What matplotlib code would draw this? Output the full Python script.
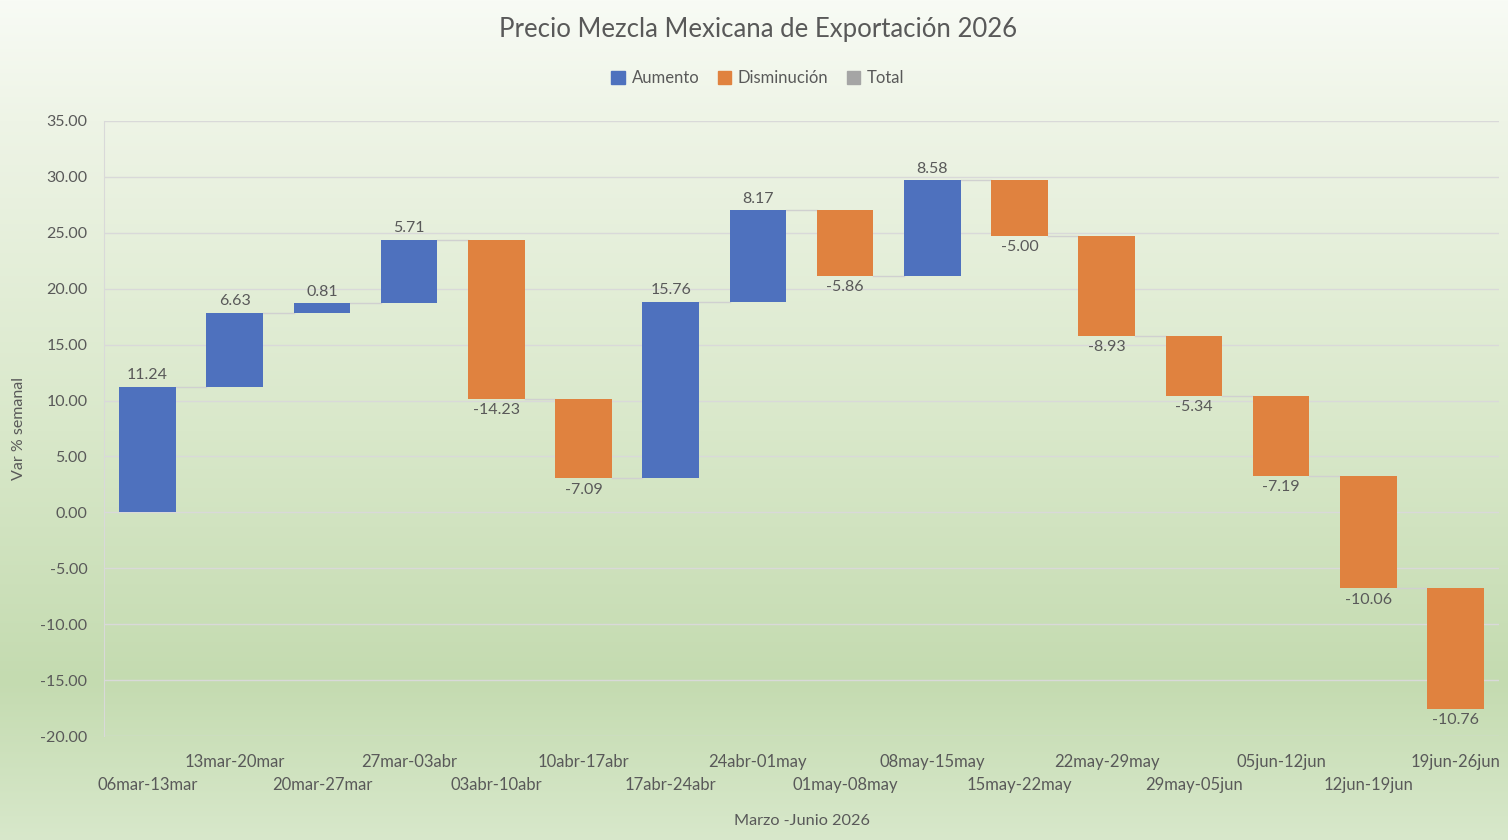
import matplotlib.pyplot as plt
import numpy as np
from matplotlib.patches import Patch

# weekly ranges and weekly % change
semanas = ['06mar-13mar', '13mar-20mar', '20mar-27mar', '27mar-03abr', '03abr-10abr',
           '10abr-17abr', '17abr-24abr', '24abr-01may', '01may-08may', '08may-15may',
           '15may-22may', '22may-29may', '29may-05jun', '05jun-12jun', '12jun-19jun',
           '19jun-26jun']
variacion = [11.24, 6.63, 0.81, 5.71, -14.23, -7.09, 15.76, 8.17, -5.86, 8.58,
             -5.00, -8.93, -5.34, -7.19, -10.06, -10.76]

azul = '#4e71be'
naranja = '#e0823f'
gris = '#a5a5a5'
texto = '#595959'

plt.rcParams['font.family'] = ['Lato', 'DejaVu Sans']

fig = plt.figure(figsize=(15.08, 8.4), dpi=100)

# background gradient (white at top to soft green near the bottom)
stops_y = [0, 120, 430, 680, 840]
stops_c = np.array([[248, 251, 245], [238, 244, 230], [217, 232, 202],
                    [196, 219, 176], [216, 232, 203]]) / 255.0
yy = np.arange(840)
grad = np.stack([np.interp(yy, stops_y, stops_c[:, k]) for k in range(3)], axis=1)
bg = fig.add_axes([0, 0, 1, 1], zorder=-10)
bg.imshow(grad[:, None, :], aspect='auto', extent=[0, 1, 0, 1])
bg.axis('off')

ax = fig.add_axes([104 / 1508, 1 - 736 / 840, 1395 / 1508, 615 / 840])
ax.set_facecolor('none')

v = np.array(variacion)
fin = np.cumsum(v)
inicio = fin - v
x = np.arange(len(v))
ancho = 0.65
colores = [azul if d >= 0 else naranja for d in v]

ax.bar(x, v, bottom=inicio, width=ancho, color=colores, zorder=3)

# connector lines between bars
for i in range(len(v) - 1):
    ax.plot([x[i] + ancho / 2, x[i + 1] - ancho / 2], [fin[i], fin[i]],
            color='#d0d0d0', lw=1, zorder=2)

# data labels
for i, d in enumerate(v):
    if d >= 0:
        ax.text(x[i], fin[i] + 0.4, f'{d:.2f}', ha='center', va='bottom',
                fontsize=11.5, color=texto)
    else:
        ax.text(x[i], fin[i] - 0.4, f'{d:.2f}', ha='center', va='top',
                fontsize=11.5, color=texto)

ax.set_xlim(-0.5, len(v) - 0.5)
ax.set_ylim(-20, 35)
ax.set_yticks(np.arange(-20, 36, 5))
ax.set_yticklabels([f'{t:.2f}' for t in np.arange(-20, 36, 5)])
ax.grid(axis='y', color='#d9d9d9', lw=1, zorder=0)
ax.set_axisbelow(True)
for s in ['top', 'right', 'bottom']:
    ax.spines[s].set_visible(False)
ax.spines['left'].set_color('#d9d9d9')
ax.tick_params(axis='y', length=0, labelsize=11.5, labelcolor=texto, pad=12)

ax.set_xticks(x)
ax.set_xticklabels(semanas)
ax.tick_params(axis='x', length=0, labelsize=12, labelcolor=texto)
for i, tick in enumerate(ax.xaxis.get_major_ticks()):
    tick.set_pad(29.5 if i % 2 == 0 else 13)

ax.set_ylabel('Var % semanal', fontsize=11.5, color=texto, labelpad=10)
ax.set_xlabel('Marzo -Junio 2026', fontsize=11.7, color=texto, labelpad=15)

fig.text(0.5025, 1 - 30 / 840, 'Precio Mezcla Mexicana de Exportación 2026',
         ha='center', va='center', fontsize=18.5, color=texto)

handles = [Patch(color=azul), Patch(color=naranja), Patch(color=gris)]
fig.legend(handles, ['Aumento', 'Disminución', 'Total'], loc='center',
           bbox_to_anchor=(0.5025, 1 - 78 / 840), ncol=3, frameon=False,
           fontsize=12, labelcolor=texto, handlelength=0.8, handleheight=0.8,
           handletextpad=0.4, columnspacing=1.1)

fig.savefig('out.png', dpi=100)
